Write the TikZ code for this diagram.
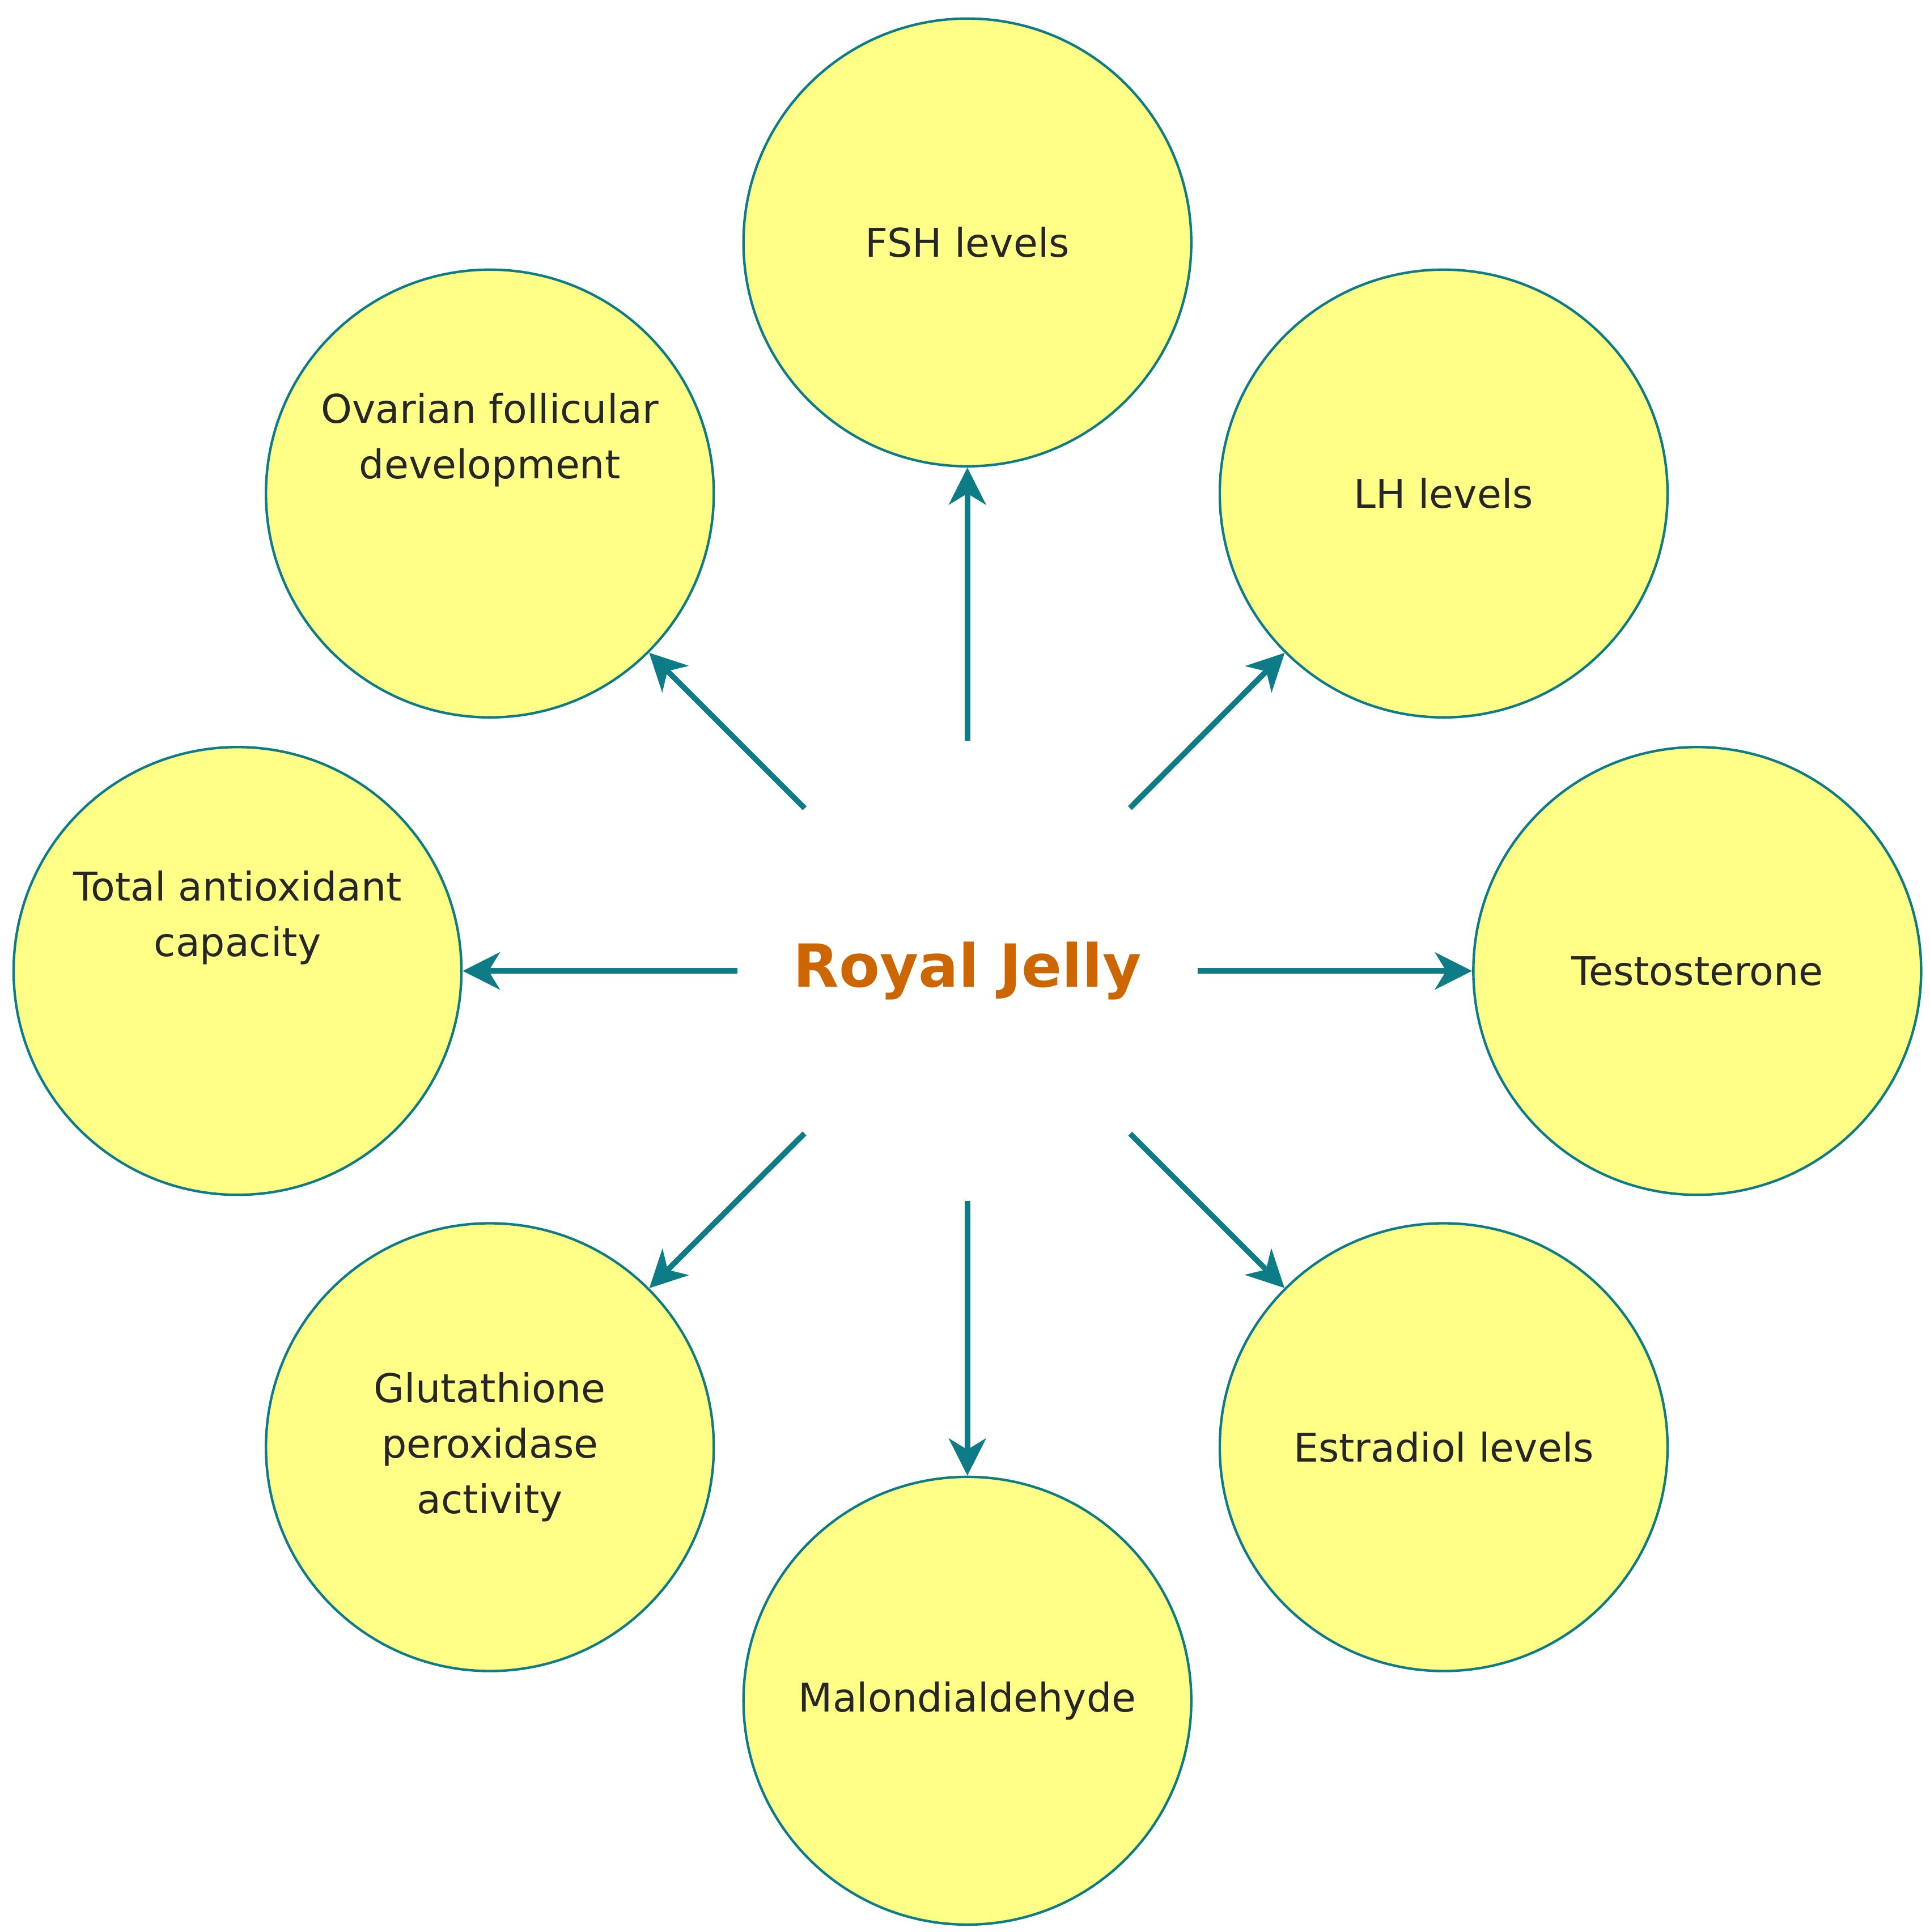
\documentclass[tikz,border=0pt]{standalone}
\usepackage{fontspec}
\setmainfont{DejaVu Sans}
\usetikzlibrary{arrows.meta}
\definecolor{fillY}{HTML}{FFFF88}
\definecolor{teal1}{HTML}{0E7C86}
\definecolor{rjc}{HTML}{CC6600}
\begin{document}
\begin{tikzpicture}[x=1pt,y=-1pt,
  bub/.style={circle,draw=teal1,line width=2pt,fill=fillY,minimum size=362pt,inner sep=0pt,align=center,font=\fontsize{32}{45}\selectfont,text=black!85},
  arr/.style={draw=teal1,line width=4.5pt,-{Stealth[length=30pt,width=30pt,inset=9pt]},shorten <=186pt}]
\useasboundingbox (0,0) rectangle (1560,1562);
\node[font=\fontsize{48}{56}\selectfont\bfseries,text=rjc] (rj) at (782,785) {Royal Jelly};
\node[bub] (fsh) at (782,196) {FSH levels};
\node[bub] (lh) at (1167,399) {LH levels};
\node[bub] (tes) at (1372,785) {Testosterone};
\node[bub] (est) at (1167,1170) {Estradiol levels};
\node[bub] (mal) at (782,1375) {Malondialdehyde};
\node[bub] (glu) at (396,1170) {Glutathione\\peroxidase\\activity};
\node[bub] (tot) at (192,785) {Total antioxidant\\capacity\\[48pt]};
\node[bub] (ova) at (396,399) {Ovarian follicular\\development\\[48pt]};
\foreach \n in {fsh,lh,tes,est,mal,glu,tot,ova}
  \draw[arr] (rj.center) -- (\n);
\end{tikzpicture}
\end{document}
